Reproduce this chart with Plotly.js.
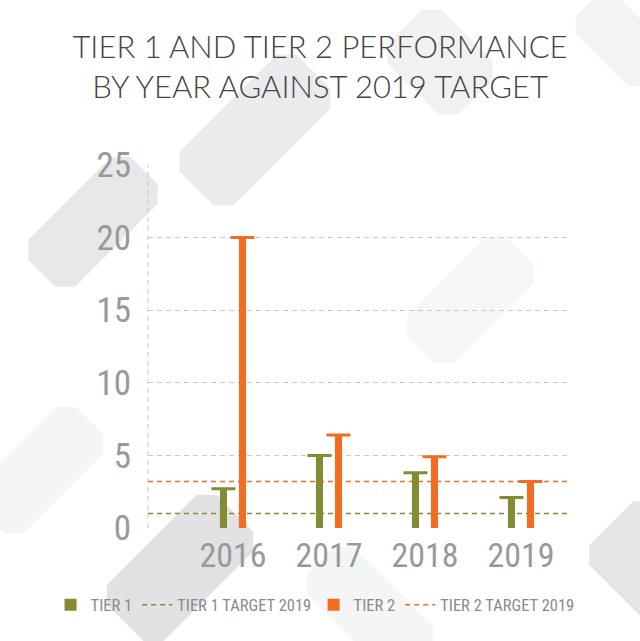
<!DOCTYPE html>
<html>
<head>
<meta charset="utf-8">
<script src="https://cdn.plot.ly/plotly-3.0.1.min.js"></script>
<style>
html,body{margin:0;padding:0;background:#fff;}
#chart{width:640px;height:641px;}
.xtick text, .x2tick text, .ytick text, .legendtext { font-stretch: extra-condensed; }
</style>
</head>
<body>
<div id="chart"></div>
<script>
const years = ['2016', '2017', '2018', '2019'];
const tier1 = [2.7, 5.0, 3.8, 2.1];
const tier2 = [20.0, 6.4, 4.9, 3.2];
const tier1Target = 1.0;
const tier2Target = 3.2;
const yTicks = [0, 5, 10, 15, 20, 25];

const green = '#858b32';
const orange = '#f26c21';
const condensed = '"Noto Sans ExtraCondensed Light", "Noto Sans ExtraCondensed", "Noto Sans Condensed Light", "Noto Sans Condensed", "Roboto Condensed", "Noto Sans", sans-serif';

const zeros = years.map(() => 0);

const traces = [
  {
    type: 'bar', name: 'TIER 1', x: years, y: tier1, xaxis: 'x2', yaxis: 'y',
    width: 0.074, offset: -0.136, marker: {color: green},
    error_y: {type: 'data', array: zeros, visible: true, color: green, thickness: 3, width: 12},
    legend: 'legend', legendrank: 1
  },
  {
    type: 'bar', name: 'TIER 2', x: years, y: tier2, xaxis: 'x2', yaxis: 'y',
    width: 0.074, offset: 0.062, marker: {color: orange},
    error_y: {type: 'data', array: zeros, visible: true, color: orange, thickness: 3, width: 12},
    legend: 'legend2', legendrank: 1
  },
  {
    type: 'scatter', mode: 'lines', name: 'TIER 1 TARGET 2019', x: [0, 1], y: [tier1Target, tier1Target],
    xaxis: 'x', yaxis: 'y', line: {color: green, dash: '5px,4px', width: 1.5},
    legend: 'legend', legendrank: 2
  },
  {
    type: 'scatter', mode: 'lines', name: 'TIER 2 TARGET 2019', x: [0, 1], y: [tier2Target, tier2Target],
    xaxis: 'x', yaxis: 'y', line: {color: orange, dash: '5px,4px', width: 1.5},
    legend: 'legend2', legendrank: 2
  }
];

// decorative faint background blocks (pixel centre, length, width, angle, colour)
const plotBox = {l: 148, r: 568, t: 165, b: 528};
function toPaper(px, py) {
  return [(px - plotBox.l) / (plotBox.r - plotBox.l), (plotBox.b - py) / (plotBox.b - plotBox.t)];
}
function block(cx, cy, len, wid, angDeg, color) {
  const a = angDeg * Math.PI / 180;
  const ux = Math.cos(a), uy = Math.sin(a), vx = -uy, vy = ux;
  const hl = len / 2, hw = wid / 2, c = Math.min(14, hw * 0.45);
  const local = [
    [-hl + c, -hw], [hl - c, -hw], [hl, -hw + c], [hl, hw - c],
    [hl - c, hw], [-hl + c, hw], [-hl, hw - c], [-hl, -hw + c]
  ];
  const pts = local.map(([u, v]) => toPaper(cx + u * ux + v * vx, cy + u * uy + v * vy));
  const path = 'M' + pts.map(p => p[0].toFixed(4) + ',' + p[1].toFixed(4)).join(' L') + ' Z';
  return {type: 'path', xref: 'paper', yref: 'paper', path: path, fillcolor: color,
          line: {width: 0}, layer: 'below'};
}
const decor = [
  block(93, 222, 145, 66, -45, '#e8e8ea'),
  block(255, 130, 165, 76, -45, '#ebebed'),
  block(440, 62, 100, 76, 45, '#f1f1f2'),
  block(180, 568, 155, 80, -45, '#e2e2e4'),
  block(650, 562, 110, 90, 45, '#e5e5e7'),
  block(622, 40, 100, 56, 45, '#f3f3f4'),
  block(40, 470, 140, 66, -45, '#f5f5f6'),
  block(470, 300, 140, 66, -45, '#f5f6f7'),
  block(370, 610, 140, 66, 45, '#f4f5f6')
];

const layout = {
  width: 640, height: 641,
  paper_bgcolor: '#ffffff', plot_bgcolor: 'rgba(0,0,0,0)',
  margin: {l: 148, r: 72, t: 165, b: 113},
  title: {
    text: 'TIER 1 AND TIER 2 PERFORMANCE<br>BY YEAR AGAINST 2019 TARGET',
    font: {family: 'Lato, "Open Sans", sans-serif', size: 31, color: '#444444', weight: 300},
    x: 0.5, xanchor: 'center', yref: 'container', y: 0.91, yanchor: 'top'
  },
  showlegend: true,
  legend: {
    orientation: 'h', xref: 'container', x: 0.079, xanchor: 'left',
    yref: 'container', y: 0.056, yanchor: 'middle',
    font: {family: condensed, size: 16.5, color: '#8a8a8a'},
    traceorder: 'normal', bgcolor: 'rgba(0,0,0,0)', itemwidth: 30
  },
  legend2: {
    orientation: 'h', xref: 'container', x: 0.49, xanchor: 'left',
    yref: 'container', y: 0.056, yanchor: 'middle',
    font: {family: condensed, size: 16.5, color: '#8a8a8a'},
    traceorder: 'normal', bgcolor: 'rgba(0,0,0,0)', itemwidth: 30
  },
  barmode: 'overlay',
  xaxis: {
    range: [0, 1], showgrid: false, zeroline: false, showline: false,
    showticklabels: false, fixedrange: true
  },
  xaxis2: {
    type: 'category', overlaying: 'x', side: 'bottom',
    range: [-0.885, 3.49], showgrid: false, zeroline: false, showline: false,
    ticks: 'outside', ticklen: 1, tickcolor: 'rgba(0,0,0,0)', ticklabelstandoff: -4,
    tickfont: {family: condensed, size: 34, color: '#999999'}
  },
  yaxis: {
    range: [0, 25], tickvals: yTicks, showgrid: true, gridcolor: '#c9c9c9', griddash: '5px,4px', gridwidth: 1,
    zeroline: false, showline: false,
    ticks: 'outside', ticklen: 9, tickcolor: 'rgba(0,0,0,0)',
    tickfont: {family: condensed, size: 35, color: '#999999'}
  },
  shapes: decor.concat([
    {type: 'line', xref: 'paper', yref: 'paper', x0: 0, x1: 0, y0: 0, y1: 1,
     line: {color: '#c9c9c9', width: 1, dash: '5px,4px'}, layer: 'below'}
  ])
};

Plotly.newPlot('chart', traces, layout, {displayModeBar: false, staticPlot: true});
</script>
</body>
</html>
